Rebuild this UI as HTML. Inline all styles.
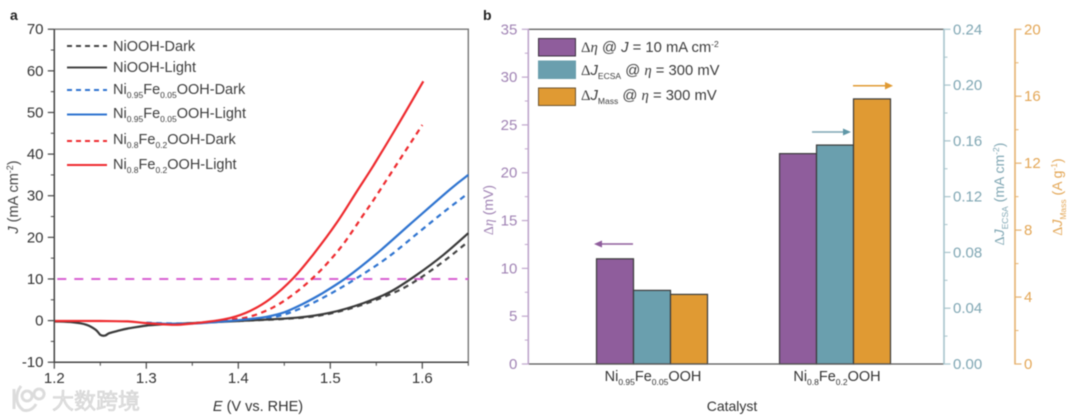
<!DOCTYPE html>
<html lang="en">
<head>
<meta charset="utf-8">
<title>Catalyst chart</title>
<style>
html,body{margin:0;padding:0;background:#fff}
#chart{display:block;width:1080px;height:420px;filter:blur(.5px);font-family:"Liberation Sans","Noto Sans CJK SC",sans-serif}
.serif{font-family:"Liberation Serif",serif}
.i{font-style:italic}
</style>
</head>
<body>
<svg id="chart" xmlns="http://www.w3.org/2000/svg" width="1080" height="420" viewBox="0 0 1080 420">
  <g id="panelA"></g>
  <g id="panelB"></g>

  <text x="10" y="20" font-size="14" font-weight="bold" fill="#222">a</text>
  <text x="483" y="20" font-size="14" font-weight="bold" fill="#222">b</text>

  <text transform="translate(18,197) rotate(-90)" text-anchor="middle" font-size="14.500" fill="#444"><tspan class="i">J</tspan> (mA cm<tspan font-size="9" dy="-5">-2</tspan><tspan dy="5">)</tspan></text>
  <text x="258" y="411" text-anchor="middle" font-size="14.500" fill="#333"><tspan class="i">E</tspan> (V vs. RHE)</text>

  <g font-size="14.500" fill="#3c3c3c">
    <text x="113" y="51">NiOOH-Dark</text>
    <text x="113" y="72">NiOOH-Light</text>
    <text x="113" y="94">Ni<tspan font-size="8.500" dy="4">0.95</tspan><tspan dy="-4">Fe</tspan><tspan font-size="8.500" dy="4">0.05</tspan><tspan dy="-4">OOH-Dark</tspan></text>
    <text x="113" y="118">Ni<tspan font-size="8.500" dy="4">0.95</tspan><tspan dy="-4">Fe</tspan><tspan font-size="8.500" dy="4">0.05</tspan><tspan dy="-4">OOH-Light</tspan></text>
    <text x="113" y="144">Ni<tspan font-size="8.500" dy="4">0.8</tspan><tspan dy="-4">Fe</tspan><tspan font-size="8.500" dy="4">0.2</tspan><tspan dy="-4">OOH-Dark</tspan></text>
    <text x="113" y="169">Ni<tspan font-size="8.500" dy="4">0.8</tspan><tspan dy="-4">Fe</tspan><tspan font-size="8.500" dy="4">0.2</tspan><tspan dy="-4">OOH-Light</tspan></text>
  </g>
  <g stroke-width="2" fill="none">
    <line x1="67" x2="107" y1="46" y2="46" stroke="#444" stroke-dasharray="5 4"/>
    <line x1="67" x2="107" y1="67.500" y2="67.500" stroke="#444"/>
    <line x1="67" x2="107" y1="90" y2="90" stroke="#2f74d0" stroke-dasharray="5 4"/>
    <line x1="67" x2="107" y1="114.500" y2="114.500" stroke="#2f74d0"/>
    <line x1="67" x2="107" y1="141" y2="141" stroke="#ee2a2e" stroke-dasharray="5 4"/>
    <line x1="67" x2="107" y1="165" y2="165" stroke="#ee2a2e"/>
  </g>

  <g>
    <rect x="538.500" y="38.500" width="37" height="17.500" fill="#8f5d9c" stroke="#3b3040"/>
    <rect x="538.500" y="61" width="37" height="17.500" fill="#6a9fae" stroke="#6a9fae"/>
    <rect x="538.500" y="88" width="37" height="17.500" fill="#e09a33" stroke="#6d5530"/>
    <g font-size="14.800" fill="#3c3c3c">
      <text x="581" y="52"><tspan class="serif">Δ</tspan><tspan class="serif i">η</tspan> @ <tspan class="i">J</tspan> = 10 mA cm<tspan font-size="8.500" dy="-5">-2</tspan></text>
      <text x="581" y="75"><tspan class="serif">Δ</tspan><tspan class="i">J</tspan><tspan font-size="8.500" dy="4">ECSA</tspan><tspan dy="-4"> @ </tspan><tspan class="serif i">η</tspan> = 300 mV</text>
      <text x="581" y="100"><tspan class="serif">Δ</tspan><tspan class="i">J</tspan><tspan font-size="8.500" dy="4">Mass</tspan><tspan dy="-4"> @ </tspan><tspan class="serif i">η</tspan> = 300 mV</text>
    </g>
  </g>

  <text transform="translate(493,210) rotate(-90)" text-anchor="middle" font-size="14" fill="#a083b4"><tspan class="serif">Δ</tspan><tspan class="serif i">η</tspan> (mV)</text>
  <text transform="translate(1004,194) rotate(-90)" text-anchor="middle" font-size="14" fill="#7fa6b3"><tspan class="serif">Δ</tspan><tspan class="i">J</tspan><tspan font-size="8.500" dy="4">ECSA</tspan><tspan dy="-4"> (mA cm</tspan><tspan font-size="8.500" dy="-5">-2</tspan><tspan dy="5">)</tspan></text>
  <text transform="translate(1062,197) rotate(-90)" text-anchor="middle" font-size="14" fill="#e3a655"><tspan class="serif">Δ</tspan><tspan class="i">J</tspan><tspan font-size="8.500" dy="4">Mass</tspan><tspan dy="-4"> (A g</tspan><tspan font-size="8.500" dy="-5">-1</tspan><tspan dy="5">)</tspan></text>
  <text x="732" y="411" text-anchor="middle" font-size="14" fill="#333">Catalyst</text>

  <g font-size="14.500" fill="#333" text-anchor="middle">
    <text x="653" y="381">Ni<tspan font-size="8.500" dy="4">0.95</tspan><tspan dy="-4">Fe</tspan><tspan font-size="8.500" dy="4">0.05</tspan><tspan dy="-4">OOH</tspan></text>
    <text x="837" y="381">Ni<tspan font-size="8.500" dy="4">0.8</tspan><tspan dy="-4">Fe</tspan><tspan font-size="8.500" dy="4">0.2</tspan><tspan dy="-4">OOH</tspan></text>
  </g>

  <g>
    <line x1="633" x2="600" y1="244" y2="244" stroke="#8f5d9c" stroke-width="1.500"/>
    <polygon points="594,244 602,240.500 602,247.500" fill="#8f5d9c"/>
    <line x1="812" x2="846" y1="132" y2="132" stroke="#7fa6b3" stroke-width="1.500"/>
    <polygon points="851,132 843,128.500 843,135.500" fill="#5f97a7"/>
    <line x1="853" x2="888" y1="85.700" y2="85.700" stroke="#e09a33" stroke-width="1.500"/>
    <polygon points="893,85.700 885,82 885,89.500" fill="#e09a33"/>
  </g>

  <g>
    <path d="M14 389v20M21 386c-6 8-6 18 2 24 6 2 11-2 13-6M27 391a5 5 0 1 0 .1 0M39 389a5 5 0 1 0 .1 0" fill="none" stroke="#dcdcdc" stroke-width="3"/>
    <text x="52" y="409" font-size="22" fill="#e3e3e3" stroke="#cfcfcf" stroke-width=".6">大数跨境</text>
  </g>
</svg>

<script>
// ---- Panel a data ----
const eBlackLight = [1.2,1.22,1.235,1.245,1.25,1.255,1.26,1.27,1.28,1.3,1.32,1.35,1.4,1.4635,1.5,1.536,1.565,1.594,1.623,1.65];
const jBlackLight = [-0.2,-0.4,-1,-2.2,-3.4,-3.6,-3,-2.4,-1.9,-1.2,-0.9,-0.6,-0.1,0.7,1.9,4.2,6.9,11,15.8,21];
const eBlackDark = [1.4,1.4635,1.5,1.536,1.572,1.5975,1.6265,1.65];
const jBlackDark = [-0.1,0.6,1.7,3.9,7,10.2,14.8,19];
const eBlueLight = [1.3,1.33,1.36,1.4,1.43,1.45,1.47,1.49,1.518,1.55,1.587,1.63,1.65];
const jBlueLight = [-0.6,-0.8,-0.6,0.1,0.9,2,4,6.4,10.4,16,23.2,31.5,35];
const eBlueDark = [1.3,1.33,1.36,1.4,1.44,1.4707,1.4997,1.5287,1.5613,1.5939,1.6228,1.65];
const jBlueDark = [-0.5,-0.7,-0.5,0,0.9,3.2,6.4,10.2,15,20.8,26,30.6];
const eRedLight = [1.2,1.25,1.28,1.3,1.33,1.35,1.37,1.391,1.4127,1.4345,1.4598,1.4815,1.507,1.5287,1.5467,1.5722,1.6011];
const jRedLight = [-0.1,-0.1,-0.2,-0.6,-1,-0.7,-0.2,0.6,2.3,5.2,10.2,15.9,23.5,31,37.2,46.5,57.5];
const eRedDark = [1.35,1.37,1.39,1.4127,1.438,1.4598,1.4798,1.496,1.5142,1.5359,1.5486,1.5776,1.6];
const jRedDark = [-0.7,-0.3,0.2,0.95,3.2,6.3,10,13.6,18.4,25.4,29.5,39.4,47];
const referenceJ = [10];
const eTicksMajor = [1.2,1.3,1.4,1.5,1.6];
const eTicksMinor = [1.25,1.35,1.45,1.55,1.65];
const jTicksMajor = [-10,0,10,20,30,40,50,60,70];
const jTicksMinor = [-5,5,15,25,35,45,55,65];

// ---- Panel b data ----
const categories = ["Ni0.95Fe0.05OOH","Ni0.8Fe0.2OOH"];
const etaValues = [11,22];
const ecsaValues = [0.0528,0.157];
const massValues = [4.16,15.84];
const etaTicksMajor = [0,5,10,15,20,25,30,35];
const etaTicksMinor = [2.5,7.5,12.5,17.5,22.5,27.5,32.5];
const ecsaTicksMajor = [0,0.04,0.08,0.12,0.16,0.2,0.24];
const ecsaTicksMinor = [0.02,0.06,0.1,0.14,0.18,0.22];
const massTicksMajor = [0,4,8,12,16,20];
const massTicksMinor = [2,6,10,14,18];

const NS = "http://www.w3.org/2000/svg";
const panelA = document.getElementById("panelA");
const panelB = document.getElementById("panelB");
function make(parent, tag, attrs, text) {
  const el = document.createElementNS(NS, tag);
  for (const k in attrs) el.setAttribute(k, attrs[k]);
  if (text !== undefined) el.textContent = text;
  parent.appendChild(el);
  return el;
}

// ---- Scales ----
const xE = v => 54.3 + (v - 1.2) * 920;
const yJ = v => 320.6 - v * 4.1625;
const B_TOP = 29.3, B_BOTTOM = 364, B_H = B_BOTTOM - B_TOP;
const yEta = v => B_BOTTOM - v / 35 * B_H;
const yEcsa = v => B_BOTTOM - v / 0.24 * B_H;
const yMass = v => B_BOTTOM - v / 20 * B_H;
const barGroupLeft = i => 596.5 + i * 183;
const BAR_W = 37;

// Smooth curve through the data points
function curvePath(xs, ys) {
  const p = xs.map((x, i) => [xE(x), yJ(ys[i])]);
  let d = "M" + p[0][0].toFixed(1) + " " + p[0][1].toFixed(1);
  for (let i = 0; i < p.length - 1; i++) {
    const a = p[Math.max(i - 1, 0)], b = p[i], c = p[i + 1], e = p[Math.min(i + 2, p.length - 1)];
    const c1x = b[0] + (c[0] - a[0]) / 6, c1y = b[1] + (c[1] - a[1]) / 6;
    const c2x = c[0] - (e[0] - b[0]) / 6, c2y = c[1] - (e[1] - b[1]) / 6;
    d += "C" + [c1x, c1y, c2x, c2y, c[0], c[1]].map(n => n.toFixed(1)).join(" ");
  }
  return d;
}

function drawSeries(name, xs, ys, color, dashed) {
  const el = make(panelA, "path", {
    d: curvePath(xs, ys), fill: "none", stroke: color,
    "stroke-width": 2.2, "stroke-linejoin": "round"
  });
  if (dashed) el.setAttribute("stroke-dasharray", "5.5 4.5");
  
  
}

function drawVerticalAxis(parent, name, x, scale, major, minor, labels, dir, axisColor, textColor, axisWidth) {
  const axis = make(parent, "line", { x1: x, x2: x, y1: B_TOP - 0.5, y2: B_BOTTOM + 0.5, stroke: axisColor, "stroke-width": axisWidth });
  
  
  major.forEach((v, i) => {
    const y = scale(v);
    const tick = make(parent, "line", { x1: x, x2: x + dir * 6.5, y1: y, y2: y, stroke: axisColor, "stroke-width": 1.2 });
    
    
    const label = make(parent, "text", {
      x: dir < 0 ? x - 11 : x + 9, y: y + 5, "font-size": 15, fill: textColor,
      "text-anchor": dir < 0 ? "end" : "start"
    }, labels[i]);
    
    
  });
  minor.forEach(v => {
    const y = scale(v);
    const tick = make(parent, "line", { x1: x, x2: x + dir * 3.5, y1: y, y2: y, stroke: axisColor, "stroke-width": 1 });
    
    
  });
}

// ---- Panel a ----
const frameA = make(panelA, "path", {
  d: "M" + xE(1.2) + " " + yJ(70) + "H" + xE(1.65) + "V" + yJ(-10),
  fill: "none", stroke: "#777", "stroke-width": 1.4
});



const refLine = make(panelA, "line", {
  x1: xE(1.2) + 3, x2: xE(1.65), y1: yJ(referenceJ[0]), y2: yJ(referenceJ[0]),
  stroke: "#d860d2", "stroke-width": 2, "stroke-dasharray": "9 8"
});



drawSeries("curve-niooh-dark", eBlackDark, jBlackDark, "#444", true);
drawSeries("curve-ni95-dark", eBlueDark, jBlueDark, "#2f74d0", true);
drawSeries("curve-ni8-dark", eRedDark, jRedDark, "#ee2a2e", true);
drawSeries("curve-niooh-light", eBlackLight, jBlackLight, "#3a3a3a", false);
drawSeries("curve-ni95-light", eBlueLight, jBlueLight, "#2f74d0", false);
drawSeries("curve-ni8-light", eRedLight, jRedLight, "#ee2a2e", false);

const axisYA = make(panelA, "line", { x1: xE(1.2), x2: xE(1.2), y1: yJ(70), y2: yJ(-10), stroke: "#444", "stroke-width": 1.5 });


const axisXA = make(panelA, "line", { x1: xE(1.2), x2: xE(1.65), y1: yJ(-10), y2: yJ(-10), stroke: "#444", "stroke-width": 1.5 });



jTicksMajor.forEach(v => {
  const t = make(panelA, "line", { x1: xE(1.2), x2: xE(1.2) - 6.5, y1: yJ(v), y2: yJ(v), stroke: "#444", "stroke-width": 1.2 });
  
  
  const l = make(panelA, "text", { x: 43.5, y: yJ(v) + 5, "font-size": 15, fill: "#333", "text-anchor": "end" }, String(v));
  
  
});
jTicksMinor.forEach(v => {
  const t = make(panelA, "line", { x1: xE(1.2), x2: xE(1.2) - 3.5, y1: yJ(v), y2: yJ(v), stroke: "#444", "stroke-width": 1 });
  
  
});
eTicksMajor.forEach(v => {
  const t = make(panelA, "line", { x1: xE(v), x2: xE(v), y1: yJ(-10), y2: yJ(-10) + 6.5, stroke: "#444", "stroke-width": 1.2 });
  
  
  const l = make(panelA, "text", { x: xE(v), y: 383, "font-size": 15, fill: "#333", "text-anchor": "middle" }, v.toFixed(1));
  
  
});
eTicksMinor.forEach(v => {
  const t = make(panelA, "line", { x1: xE(v), x2: xE(v), y1: yJ(-10), y2: yJ(-10) + 3.5, stroke: "#444", "stroke-width": 1 });
  
  
});

// ---- Panel b ----
const frameTop = make(panelB, "line", { x1: 528.3, x2: 944, y1: B_TOP, y2: B_TOP, stroke: "#666", "stroke-width": 1.3 });



categories.forEach((c, i) => {
  const left = barGroupLeft(i);
  const barDefs = [
    [yEta(etaValues[i]), "#8f5d9c"],
    [yEcsa(ecsaValues[i]), "#6a9fae"],
    [yMass(massValues[i]), "#e09a33"]
  ];
  barDefs.forEach((b, j) => {
    const bar = make(panelB, "rect", {
      x: left + j * BAR_W, y: b[0], width: BAR_W, height: B_BOTTOM - b[0],
      fill: b[1], stroke: "#3a3a3a", "stroke-width": 1.2
    });
    
    
  });
});

const frameBottom = make(panelB, "line", { x1: 528.3, x2: 944, y1: B_BOTTOM, y2: B_BOTTOM, stroke: "#555", "stroke-width": 1.3 });



drawVerticalAxis(panelB, "y-axis-eta", 528.3, yEta, etaTicksMajor, etaTicksMinor,
  etaTicksMajor.map(String), -1, "#bfa6cc", "#a083b4", 1.6);
drawVerticalAxis(panelB, "y-axis-ecsa", 944, yEcsa, ecsaTicksMajor, ecsaTicksMinor,
  ecsaTicksMajor.map(v => v.toFixed(2)), 1, "#a7c4cc", "#7fa6b3", 1.6);
drawVerticalAxis(panelB, "y-axis-mass", 1015, yMass, massTicksMajor, massTicksMinor,
  massTicksMajor.map(String), 1, "#e6b26f", "#e3a655", 1.6);
</script>
</body>
</html>
